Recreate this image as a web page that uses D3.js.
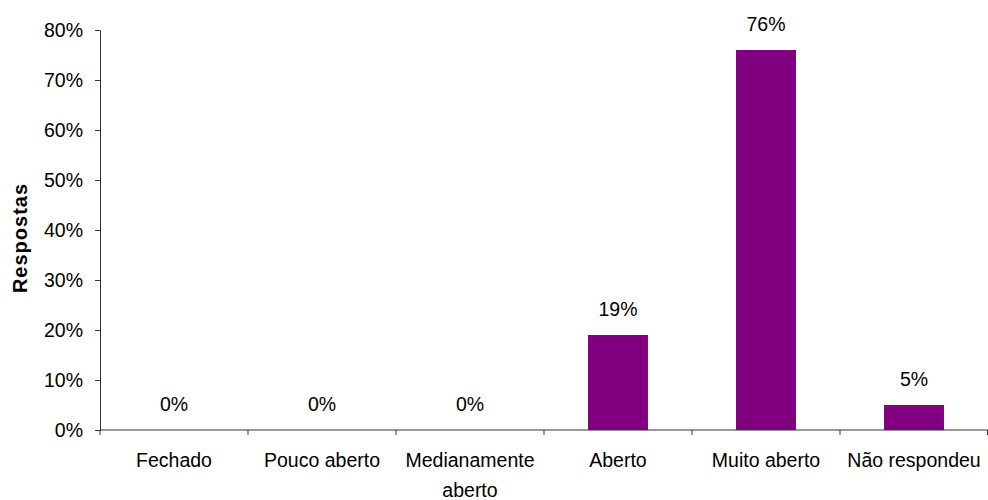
<!DOCTYPE html>
<html>
<head>
<meta charset="utf-8">
<script src="https://cdn.jsdelivr.net/npm/d3@7"></script>
<style>
  html, body { margin: 0; padding: 0; background: #fff; }
  svg { display: block; }
  text { font-family: "Liberation Sans", Arial, sans-serif; fill: #000; }
</style>
</head>
<body>
<svg id="chart" width="988" height="500"></svg>
<script>
const categories = ["Fechado", "Pouco aberto", "Medianamente aberto", "Aberto", "Muito aberto", "Não respondeu"];
const categoryLines = [["Fechado"], ["Pouco aberto"], ["Medianamente", "aberto"], ["Aberto"], ["Muito aberto"], ["Não respondeu"]];
const values = [0, 0, 0, 19, 76, 5];
const yTicks = [0, 10, 20, 30, 40, 50, 60, 70, 80];
const yTitle = "Respostas";

(function () {
const svg = d3.select("#chart");
const mLeft = 100, mRight = 988, mTop = 30, mBottom = 430;
const fs = "19.5px";

const x = d3.scaleBand().domain(categories).range([mLeft, mRight]).padding(0);
const y = d3.scaleLinear().domain([0, 80]).range([mBottom, mTop]);
const barW = x.bandwidth() * 0.405;
const axisColor = "#333";

// Y axis
const yAxis = svg.append("g")
  .attr("transform", `translate(${mLeft},0)`)
  .call(d3.axisLeft(y).tickValues(yTicks).tickFormat(d => d + "%").tickSize(5).tickSizeOuter(0).tickPadding(12));
yAxis.select(".domain").attr("stroke", axisColor);
yAxis.selectAll(".tick line").attr("stroke", axisColor);
yAxis.selectAll(".tick text")
  .style("font-family", '"Liberation Sans", Arial, sans-serif')
  .style("font-size", fs)
  .attr("fill", "#000");

// Bars
svg.append("g").selectAll("rect")
  .data(values)
  .join("rect")
  .attr("x", (d, i) => x(categories[i]) + (x.bandwidth() - barW) / 2)
  .attr("width", barW)
  .attr("y", d => y(d))
  .attr("height", d => y(0) - y(d))
  .attr("fill", "#800080");

// X axis line and boundary ticks
svg.append("line")
  .attr("x1", mLeft).attr("x2", mRight)
  .attr("y1", y(0)).attr("y2", y(0))
  .attr("stroke", axisColor);
const bounds = categories.map(c => x(c)).concat([x(categories[categories.length - 1]) + x.bandwidth()]);
svg.append("g").selectAll("line")
  .data(bounds)
  .join("line")
  .attr("x1", d => Math.min(d, mRight - 0.5)).attr("x2", d => Math.min(d, mRight - 0.5))
  .attr("y1", y(0)).attr("y2", y(0) + 5)
  .attr("stroke", axisColor);

// Category labels
const catG = svg.append("g").selectAll("text")
  .data(categoryLines)
  .join("text")
  .attr("text-anchor", "middle")
  .style("font-size", fs);
catG.each(function (lines, i) {
  const cx = x(categories[i]) + x.bandwidth() / 2;
  d3.select(this).selectAll("tspan")
    .data(lines)
    .join("tspan")
    .attr("x", cx)
    .attr("y", (d, j) => 467 + j * 30)
    .text(d => d);
});

// Value labels
svg.append("g").selectAll("text")
  .data(values)
  .join("text")
  .attr("text-anchor", "middle")
  .attr("x", (d, i) => x(categories[i]) + x.bandwidth() / 2)
  .attr("y", d => y(d) - 19.5)
  .style("font-size", fs)
  .text(d => d + "%");

// Y title
svg.append("text")
  .attr("transform", "translate(27,238) rotate(-90)")
  .attr("text-anchor", "middle")
  .style("font-size", "20px")
  .style("font-weight", "bold")
  .style("letter-spacing", "1px")
  .text(yTitle);
})();
</script>
</body>
</html>
